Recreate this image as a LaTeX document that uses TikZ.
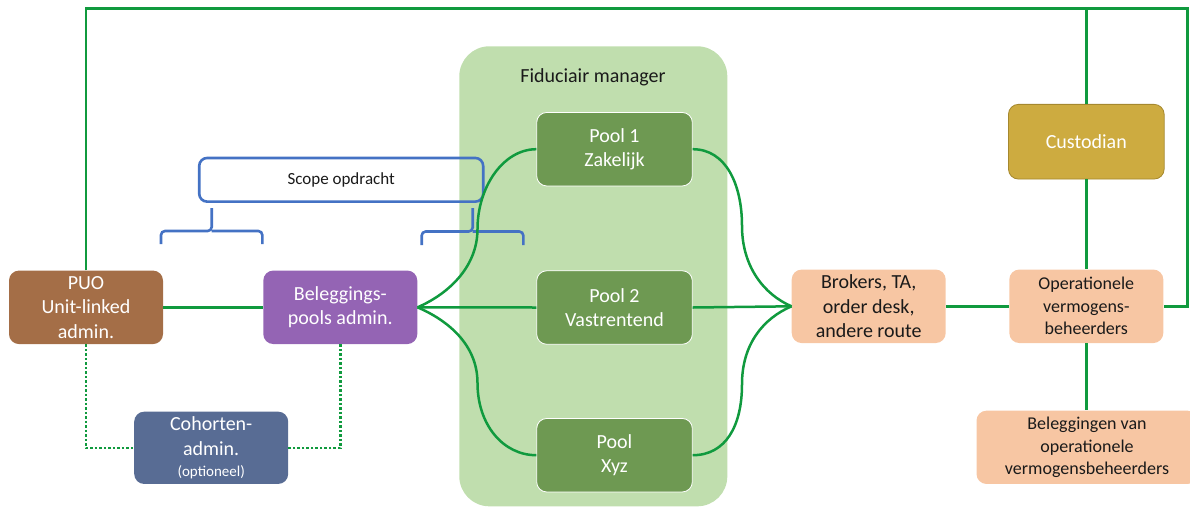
\documentclass[tikz,border=0pt]{standalone}
\usepackage{fontspec}
\setmainfont{Carlito}
\definecolor{lgreen}{RGB}{16,154,62}
\definecolor{contfill}{RGB}{192,222,174}
\definecolor{poolfill}{RGB}{110,153,82}
\definecolor{custfill}{RGB}{205,171,64}
\definecolor{custborder}{RGB}{165,136,46}
\definecolor{orfill}{RGB}{247,198,163}
\definecolor{puofill}{RGB}{164,110,71}
\definecolor{belfill}{RGB}{148,100,180}
\definecolor{cohfill}{RGB}{88,108,148}
\definecolor{scopeblue}{RGB}{68,114,196}
\definecolor{txtdark}{RGB}{26,26,26}
\begin{document}
\begin{tikzpicture}[x=1pt,y=-1pt,
  box/.style={rounded corners=10pt, inner sep=0pt, align=center, minimum width=154pt, minimum height=73.5pt, font=\fontsize{20}{24.5}\selectfont},
  whitebox/.style={box, text=white},
  poolbox/.style={whitebox, fill=poolfill, draw=white, line width=0.8pt, minimum width=155.6pt},
  orbox/.style={box, fill=orfill, text=txtdark},
  gl/.style={draw=lgreen, line width=2.5pt},
  dl/.style={draw=lgreen, line width=2.5pt, dash pattern=on 2.5pt off 2pt},
  bl/.style={draw=scopeblue, line width=2.6pt, rounded corners=4pt}
]
\useasboundingbox (0,0) rectangle (1190,509);
% container
\node[fill=contfill, rounded corners=30pt, minimum width=268pt, minimum height=460pt, inner sep=0pt] (cont) at (593.3,276.3) {};
\node[font=\fontsize{20}{24}\selectfont, text=txtdark] (fidtitle) at (593,77) {Fiduciair manager};

% nodes
\node[whitebox, fill=puofill] (puo) at (86,307.3) {PUO\\Unit-linked\\admin.};
\node[whitebox, fill=belfill] (bel) at (340.3,307.3) {Beleggings-\\pools admin.};
\node[whitebox, fill=cohfill, minimum height=72.3pt] (coh) at (211.2,447.8) {Cohorten-\\admin.\\[-3pt]{\fontsize{15}{17}\selectfont(optioneel)}};
\node[poolbox] (pool1) at (614.5,149.2) {Pool 1\\Zakelijk};
\node[poolbox] (pool2) at (614.5,307.5) {Pool 2\\Vastrentend};
\node[poolbox] (poolx) at (614.5,455.2) {Pool\\Xyz};
\node[orbox] (brok) at (868.7,306.3) {Brokers, TA,\\order desk,\\andere route};
\node[orbox, font=\fontsize{18}{22.5}\selectfont] (oper) at (1086.3,306.3) {Operationele\\vermogens-\\beheerders};
\node[whitebox, fill=custfill, draw=custborder, line width=0.8pt, minimum width=155.7pt, minimum height=74.7pt] (cust) at (1086.3,141.7) {Custodian};
\node[orbox, font=\fontsize{18}{22.4}\selectfont, minimum width=221pt, minimum height=73.3pt] (belvan) at (1087,447.3) {Beleggingen van\\operationele\\vermogensbeheerders};
\node[draw=scopeblue, line width=2.6pt, rounded corners=8pt, minimum width=284pt, minimum height=43.7pt, inner sep=0pt, font=\fontsize{17}{20}\selectfont, text=txtdark] (scope) at (341.2,179.8) {Scope opdracht};

% brackets
\draw[bl] (161,244) -- (161,231) -- (211.7,231) -- (211.7,208);
\draw[bl] (262.3,244) -- (262.3,231) -- (211.7,231);
\draw[bl] (421.7,245) -- (421.7,231.5) -- (472.7,231.5) -- (472.7,208);
\draw[bl] (523.3,245) -- (523.3,231.5) -- (472.7,231.5);

% outer green line
\coordinate (tr) at (1187.7,8.3);
\draw[gl] (puo.north) |- (tr) |- (oper.east);
\draw[gl] (cust.north) -- (cust.north |- tr);
\draw[gl] (cust.south) -- (oper.north);
\draw[gl] (oper.south) -- (oper.south |- belvan.north);
\draw[gl] (brok.east) -- (oper.west);
\draw[gl] (puo.east) -- (bel.west);

% dotted
\draw[dl] (puo.south) |- (coh.west);
\draw[dl] (bel.south) |- (coh.east);

% pool connectors
\draw[gl] (bel.east) -- (pool2.west);
\draw[gl] (pool2.east) -- (brok.west);
\draw[gl] (bel.east) .. controls +(28,-12) and +(0,40) .. (477.5,229) .. controls +(0,-42) and +(-33,0) .. (pool1.west);
\draw[gl] (bel.east) .. controls +(28,12) and +(0,-40) .. (477.5,383) .. controls +(0,42) and +(-33,0) .. (poolx.west);
\draw[gl] (pool1.east) .. controls +(33,0) and +(0,-42) .. (742,226) .. controls +(0,40) and +(-28,-12) .. (brok.west);
\draw[gl] (poolx.east) .. controls +(33,0) and +(0,42) .. (742,384) .. controls +(0,-40) and +(-28,12) .. (brok.west);
\end{tikzpicture}
\end{document}
